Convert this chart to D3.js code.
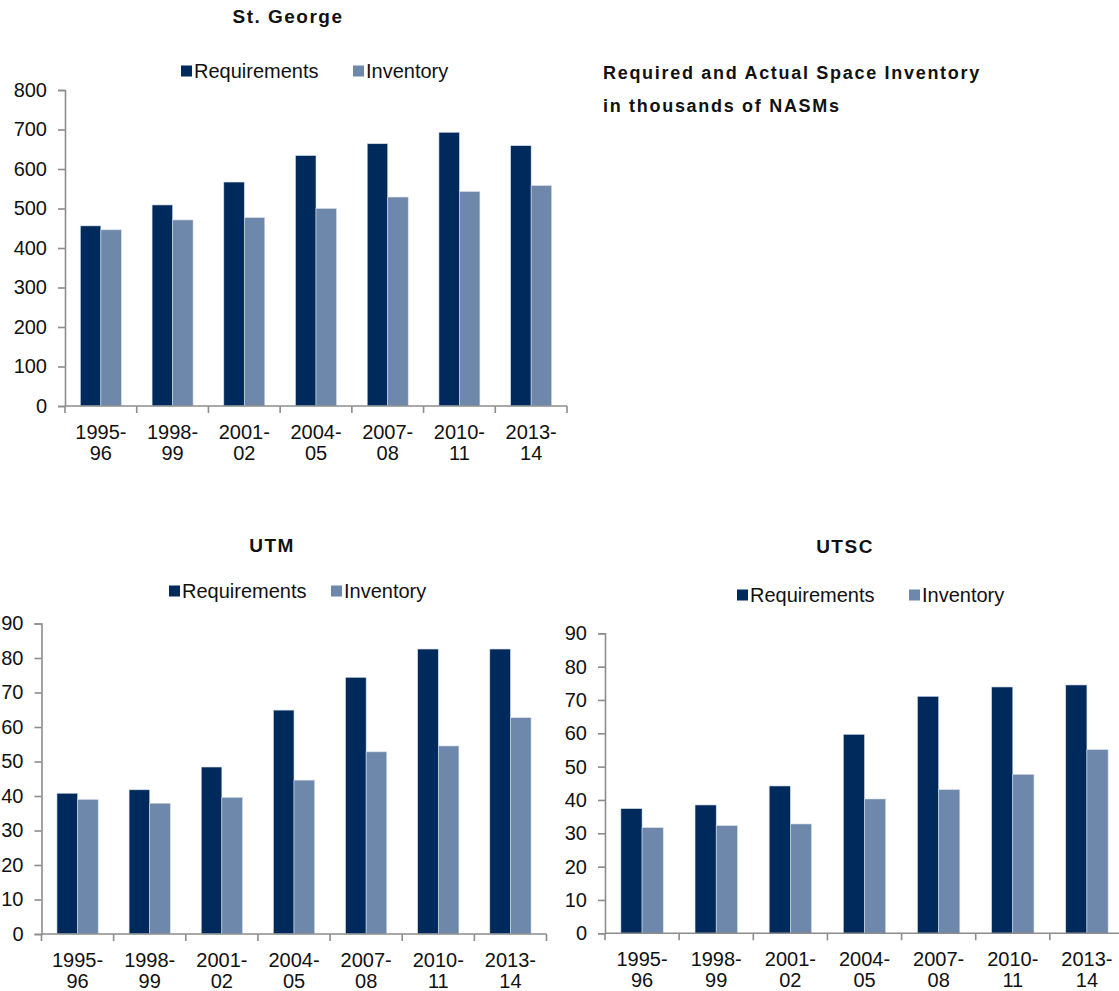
<!DOCTYPE html>
<html>
<head>
<meta charset="utf-8">
<script src="https://cdn.jsdelivr.net/npm/d3@7"></script>
<style>
  html, body { margin: 0; padding: 0; background: #ffffff; }
  svg { display: block; font-family: "Liberation Sans", Arial, sans-serif; }
</style>
</head>
<body>
<svg id="chart" width="1119" height="991"></svg>
<script>
// ---- data ----
const categories = ["1995-96", "1998-99", "2001-02", "2004-05", "2007-08", "2010-11", "2013-14"];
const seriesNames = ["Requirements", "Inventory"];
const seriesColors = ["#012a5c", "#6d88aa"];

const stGeorgeReq = [456, 509, 567, 634, 664, 693, 659];
const stGeorgeInv = [446, 471, 477, 500, 529, 543, 558];
const stGeorgeTicks = [0, 100, 200, 300, 400, 500, 600, 700, 800];

const utmReq = [40.8, 41.8, 48.4, 64.9, 74.4, 82.6, 82.6];
const utmInv = [39.0, 37.9, 39.6, 44.6, 52.8, 54.5, 62.7];
const utscReq = [37.4, 38.5, 44.2, 59.7, 71.1, 73.9, 74.5];
const utscInv = [31.7, 32.3, 32.8, 40.3, 43.1, 47.7, 55.1];
const campusTicks = [0, 10, 20, 30, 40, 50, 60, 70, 80, 90];

const noteLines = ["Required and Actual Space Inventory", "in thousands of NASMs"];

// ---- drawing ----
const svg = d3.select("#chart");
const axisColor = "#8c8c8c";

function drawChart(cfg) {
  const g = svg.append("g");
  const rows = categories.map((c, i) => ({ cat: c, values: [cfg.req[i], cfg.inv[i]] }));

  const x0 = d3.scaleBand().domain(categories).range(cfg.xRange).padding(0);
  const x1 = d3.scaleBand().domain(seriesNames).range([0, x0.bandwidth()])
    .paddingInner(0).paddingOuter(0.75);
  const y = d3.scaleLinear().domain([0, cfg.max]).range(cfg.yRange);

  // bars
  const grp = g.selectAll("g.grp").data(rows).enter().append("g")
    .attr("transform", d => `translate(${x0(d.cat)},0)`);
  grp.selectAll("rect").data(d => d.values.map((v, k) => ({ k, v }))).enter().append("rect")
    .attr("x", d => x1(seriesNames[d.k]))
    .attr("width", x1.bandwidth())
    .attr("y", d => y(d.v))
    .attr("height", d => y(0) - y(d.v))
    .attr("fill", d => seriesColors[d.k])
    .attr("stroke", "#d5dde8")
    .attr("stroke-width", 0.6);

  // y axis
  const yAxis = d3.axisLeft(y).tickValues(cfg.ticks).tickSize(7).tickPadding(11).tickFormat(d3.format("d"));
  const ya = g.append("g").attr("transform", `translate(${cfg.xRange[0]},0)`).call(yAxis);
  ya.select(".domain").attr("stroke", axisColor).attr("stroke-width", 1.6);
  ya.selectAll(".tick line").attr("stroke", axisColor).attr("stroke-width", 1.6);
  ya.selectAll(".tick text").attr("font-size", 20).attr("fill", "#111")
    .attr("font-family", "Liberation Sans, Arial, sans-serif");

  // x axis line + boundary ticks
  const base = y(0);
  g.append("line")
    .attr("x1", cfg.xRange[0]).attr("x2", cfg.xRange[1])
    .attr("y1", base).attr("y2", base)
    .attr("stroke", axisColor).attr("stroke-width", 1.6);
  const bounds = categories.map(c => x0(c)).concat([x0(categories[categories.length - 1]) + x0.step()]);
  g.selectAll("line.xt").data(bounds).enter().append("line")
    .attr("x1", d => d).attr("x2", d => d)
    .attr("y1", base).attr("y2", base + 7)
    .attr("stroke", axisColor).attr("stroke-width", 1.6);

  // x labels (two lines)
  const lbl = g.selectAll("text.xl").data(categories).enter().append("text")
    .attr("text-anchor", "middle")
    .attr("font-size", 20)
    .attr("fill", "#111")
    .attr("x", d => x0(d) + x0.bandwidth() / 2)
    .attr("y", base + 33);
  lbl.append("tspan").text(d => d.split("-")[0] + "-")
    .attr("x", d => x0(d) + x0.bandwidth() / 2);
  lbl.append("tspan").text(d => d.split("-")[1])
    .attr("x", d => x0(d) + x0.bandwidth() / 2).attr("dy", 21);

  // title
  g.append("text").text(cfg.title)
    .attr("x", cfg.titleX).attr("y", cfg.titleY)
    .attr("text-anchor", "middle")
    .attr("font-size", 19).attr("font-weight", "bold")
    .attr("letter-spacing", 1.5)
    .attr("fill", "#111");

  // legend
  seriesNames.forEach((s, k) => {
    const lx = cfg.legendX[k];
    g.append("rect").attr("x", lx).attr("y", cfg.legendY - 5.5)
      .attr("width", 11).attr("height", 11).attr("fill", seriesColors[k]);
    g.append("text").text(s).attr("x", lx + 13).attr("y", cfg.legendY + 7)
      .attr("font-size", 20).attr("fill", "#111");
  });
}

drawChart({
  title: "St. George", titleX: 288, titleY: 23,
  req: stGeorgeReq, inv: stGeorgeInv, max: 800, ticks: stGeorgeTicks,
  xRange: [65, 567], yRange: [406, 90],
  legendX: [181, 353], legendY: 71
});
drawChart({
  title: "UTM", titleX: 272, titleY: 552,
  req: utmReq, inv: utmInv, max: 90, ticks: campusTicks,
  xRange: [41.5, 546.5], yRange: [934, 623.5],
  legendX: [169, 331], legendY: 591
});
drawChart({
  title: "UTSC", titleX: 845, titleY: 553,
  req: utscReq, inv: utscInv, max: 90, ticks: campusTicks,
  xRange: [605, 1124], yRange: [933.3, 633.3],
  legendX: [737, 909], legendY: 595
});

// note text
svg.append("g").selectAll("text").data(noteLines).enter().append("text")
  .text(d => d)
  .attr("x", 603)
  .attr("y", (d, i) => 79 + i * 33)
  .attr("font-size", 18).attr("font-weight", "bold")
  .attr("letter-spacing", 1.7)
  .attr("fill", "#111");
</script>
</body>
</html>
